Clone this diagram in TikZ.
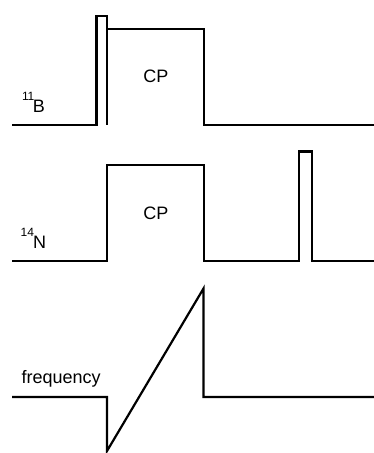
\documentclass[tikz,border=0pt]{standalone}
\usepackage{fontspec}
\setmainfont{Liberation Sans}
\newcommand{\labsize}{\fontsize{18}{20}\selectfont}
\newcommand{\supsize}{\fontsize{12}{13}\selectfont}
\begin{document}
\begin{tikzpicture}[x=1pt,y=-1pt,
  trace/.style={line width=2.2pt,line join=miter,line cap=butt},
  lbl/.style={inner sep=0pt,anchor=base west,font=\labsize},
  cplbl/.style={inner sep=0pt,anchor=base,font=\labsize}]
\useasboundingbox (0,0) rectangle (374,453);
% 11B channel: short pulse followed by the contact pulse
\draw[trace] (12,125) -- (96.5,125) -- (96.5,16) -- (107,16) -- (107,125);
\draw[trace] (107,29) -- (204,29) -- (204,125) -- (374,125);
\node[lbl] (bl) at (22,112) {\raisebox{12pt}{\supsize 1\kern-1.2pt 1}\kern-1.5pt B};
\node[cplbl] (cp1) at (156,82) {CP};
% 14N channel: contact pulse, then a short pulse
\draw[trace] (12,261) -- (107,261) -- (107,165) -- (204,165) -- (204,261)
  -- (299,261) -- (299,151.5) -- (312,151.5) -- (312,261) -- (374,261);
\node[lbl] (nl) at (20.5,248) {\raisebox{12pt}{\supsize 14}\kern-0.8pt N};
\node[cplbl] (cp2) at (156,219) {CP};
% frequency sweep
\draw[trace] (12,397) -- (107,397) -- (107,451) -- (203.5,288.5) -- (203.5,397) -- (374,397);
\node[lbl] (fl) at (21.5,383) {frequency};
\end{tikzpicture}
\end{document}
